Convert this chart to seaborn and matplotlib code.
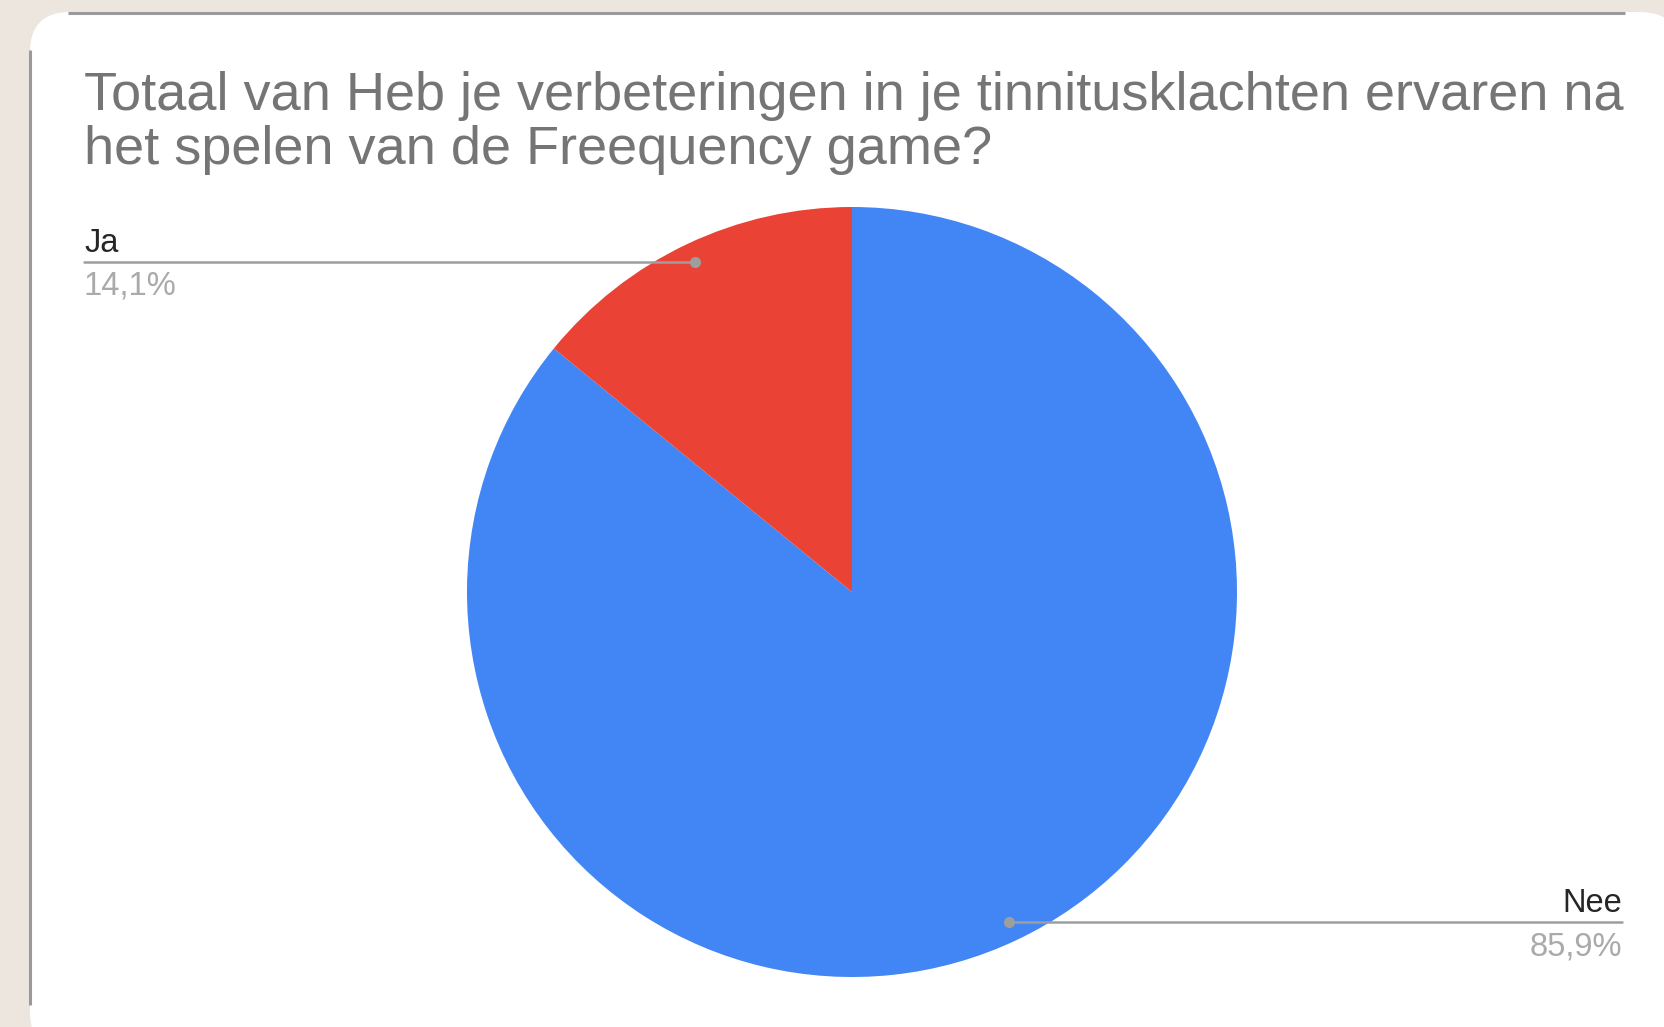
import numpy as np
import matplotlib
matplotlib.use("Agg")
import matplotlib.pyplot as plt
from matplotlib.patches import FancyBboxPatch
import seaborn as sns

# ---- data ----
categories = ["Nee", "Ja"]
values = [85.9, 14.1]
pct_labels = ["85,9%", "14,1%"]
colors = ["#4285F4", "#EA4335"]
title = "Totaal van Heb je verbeteringen in je tinnitusklachten ervaren na\nhet spelen van de Freequency game?"

sns.set_theme(style="white")
plt.rcParams["font.family"] = ["Liberation Sans", "DejaVu Sans"]

W, H = 1665, 1027
fig = plt.figure(figsize=(W / 100, H / 100), dpi=100)
fig.patch.set_facecolor("#ECE6DE")

# background axes in pixel coordinates (y downwards)
bg = fig.add_axes([0, 0, 1, 1])
bg.set_xlim(0, W)
bg.set_ylim(H, 0)
bg.axis("off")

# card
card = FancyBboxPatch((30, 12), 1650, 1040, boxstyle="round,pad=0,rounding_size=40",
                      facecolor="white", edgecolor="none", zorder=1)
bg.add_patch(card)
bg.plot([30, 30], [50, 1005], color="#9a9a9a", lw=2.2, zorder=2, solid_capstyle="butt")
bg.plot([68, 1625], [13, 13], color="#9a9a9a", lw=2.2, zorder=2, solid_capstyle="butt")

# title
bg.text(84, 71, title, ha="left", va="top", fontsize=39, color="#757575",
        linespacing=1.1, zorder=3)

# pie axes
cx, cy, r = 852, 592, 385
ax = fig.add_axes([(cx - r) / W, (H - cy - r) / H, 2 * r / W, 2 * r / H])
ax.set_facecolor("none")
wedges, _ = ax.pie(values, colors=colors, startangle=90, counterclock=False,
                   radius=1, wedgeprops=dict(linewidth=0))
ax.set_xlim(-1, 1)
ax.set_ylim(-1, 1)
ax.set_aspect("equal")
ax.axis("off")

# overlay axes for leader lines and labels (on top of the pie)
ov = fig.add_axes([0, 0, 1, 1])
ov.set_xlim(0, W)
ov.set_ylim(H, 0)
ov.axis("off")
ov.patch.set_alpha(0)

inv = ov.transData.inverted()
label_x = {"Ja": (84, "left"), "Nee": (1622, "right")}
for w, cat, pct in zip(wedges, categories, pct_labels):
    mid = np.deg2rad((w.theta1 + w.theta2) / 2)
    px, py = 0.95 * np.cos(mid), 0.95 * np.sin(mid)
    dx, dy = inv.transform(ax.transData.transform((px, py)))
    lx, ha = label_x[cat]
    ov.plot([dx, lx], [dy, dy], color="#9e9e9e", lw=1.8, zorder=4)
    ov.plot([dx], [dy], "o", color="#9e9e9e", ms=7, zorder=5)
    ov.text(lx, dy - 3, cat, ha=ha, va="bottom", fontsize=23.5, color="#262626", zorder=5)
    ov.text(lx, dy + 9, pct, ha=ha, va="top", fontsize=23.5, color="#aaaaaa", zorder=5)

fig.savefig("out.png", dpi=100, facecolor=fig.get_facecolor())
